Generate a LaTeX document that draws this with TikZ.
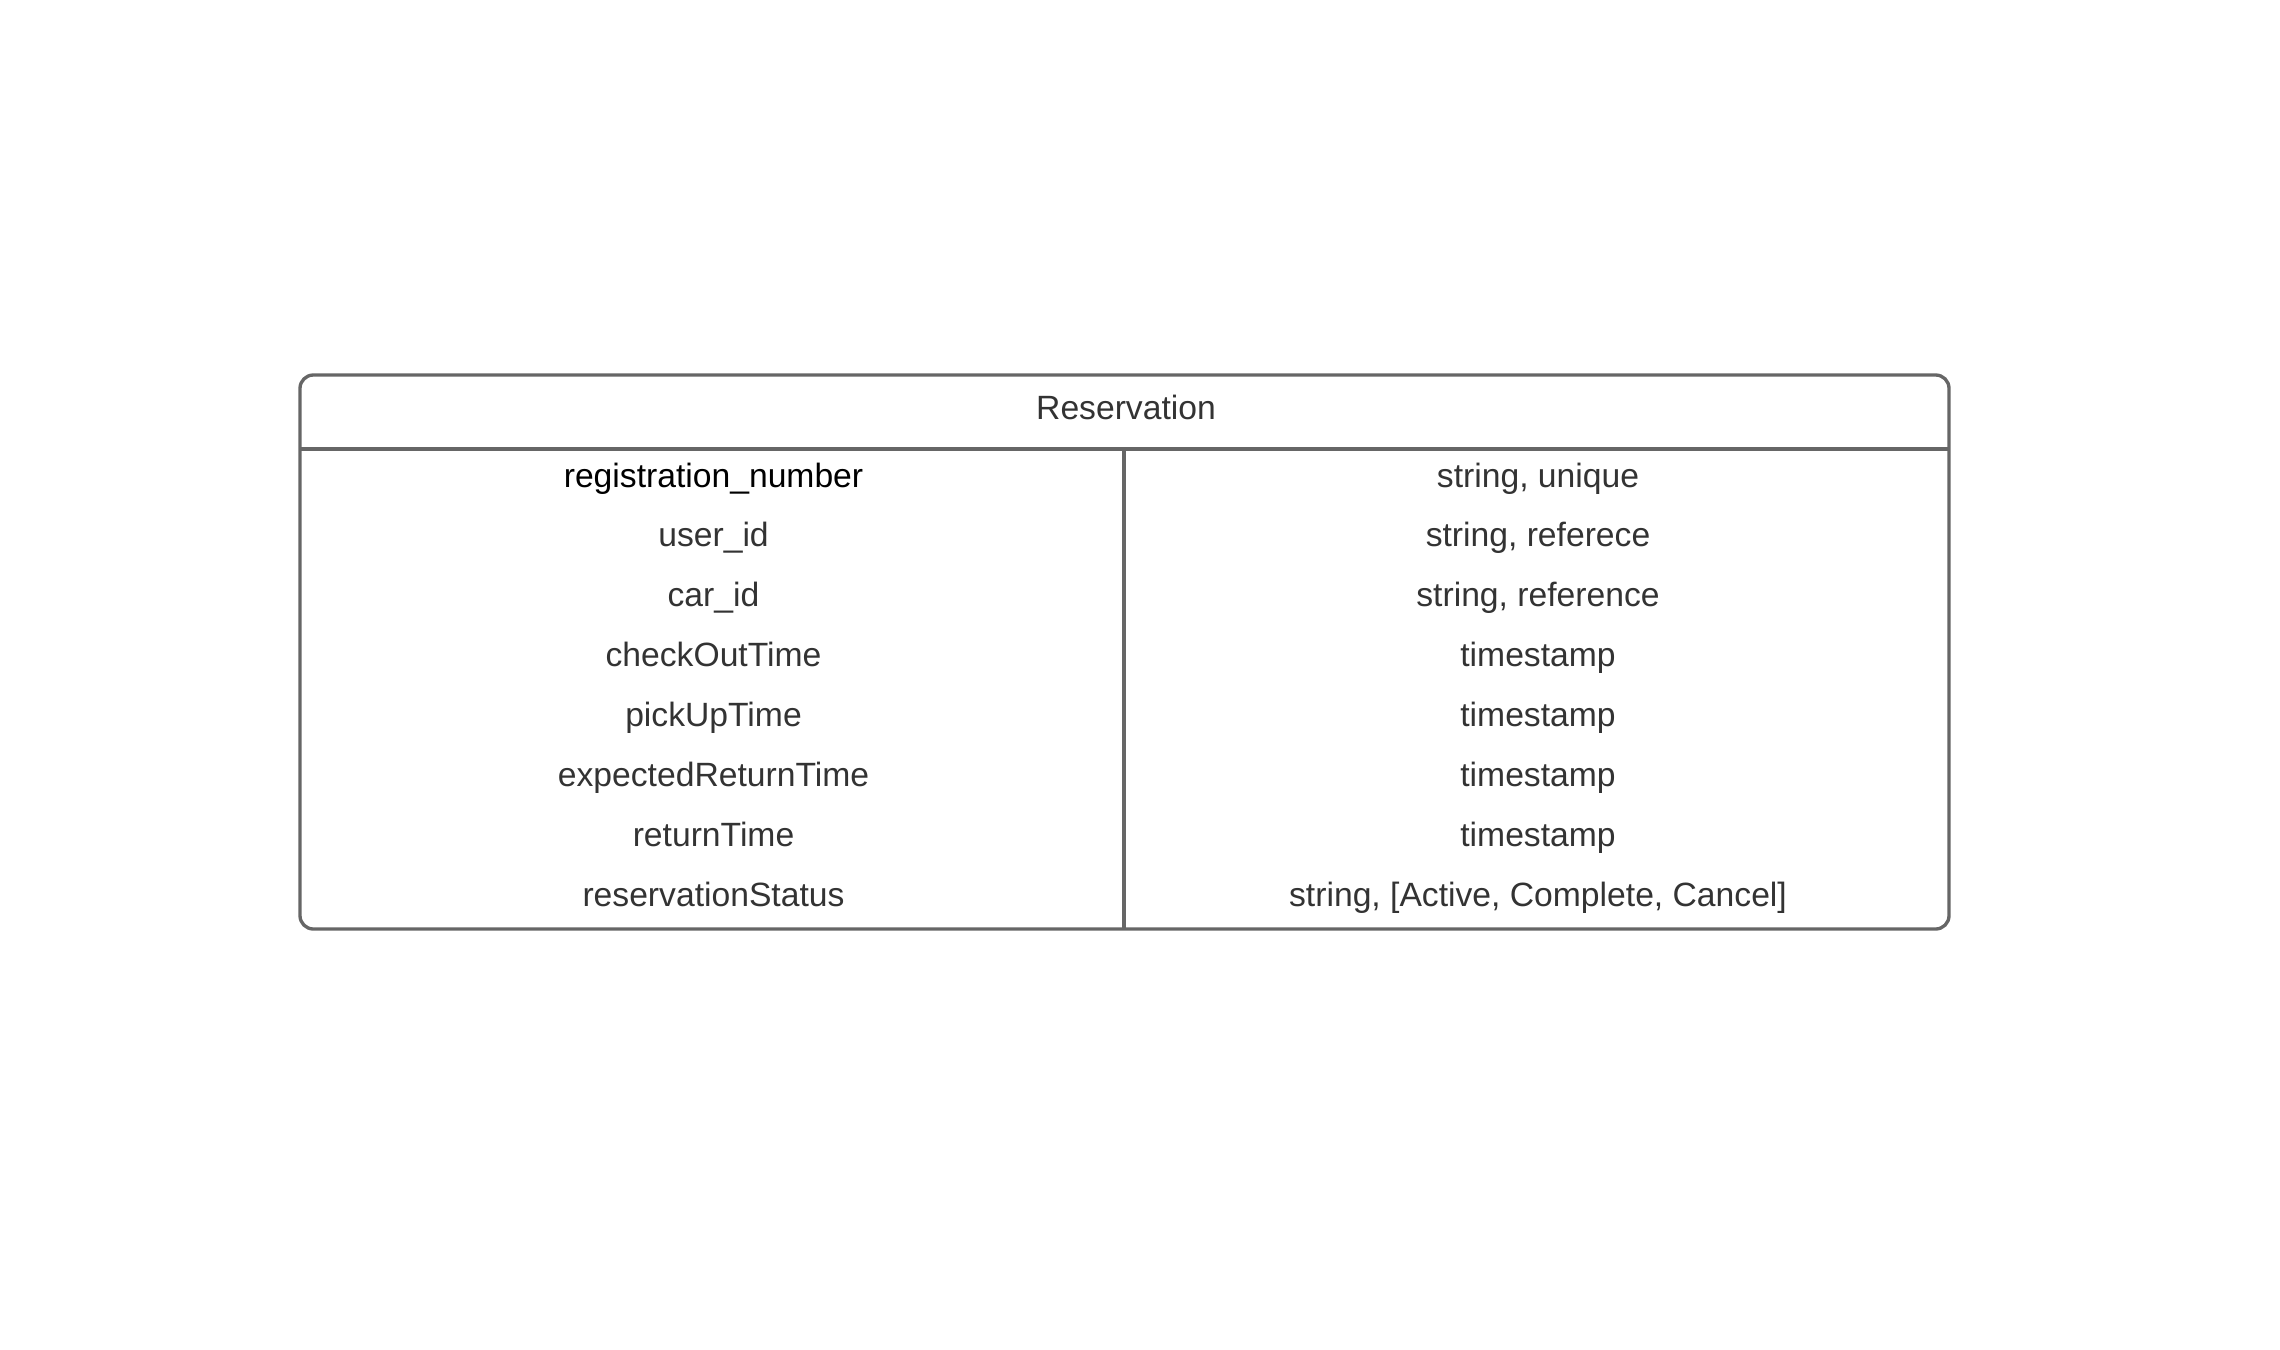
\documentclass[tikz,border=0pt]{standalone}
\usepackage{fontspec}
\setmainfont{Liberation Sans}
\usetikzlibrary{positioning}
\definecolor{framegray}{HTML}{666666}
\definecolor{textgray}{HTML}{333333}

\begin{document}
\begin{tikzpicture}[x=0.3pt,y=-0.3pt,
  tblline/.style={draw=framegray,line width=1pt},
  cell/.style={inner sep=0pt,font=\fontsize{10.1}{12}\selectfont,text=textgray,
    text height=7.23pt,text depth=0pt}]
\useasboundingbox (0,0) rectangle (2280,1350);
% frame of the table
\coordinate (nw) at (300,375);
\coordinate (se) at (1949,929);
\coordinate (hdrw) at (300,449);
\coordinate (hdre) at (1949,449);
\coordinate (divtop) at (1124,449);
\coordinate (divbot) at (1124,929);
\draw [tblline,rounded corners=4pt] (nw) rectangle (se);
\draw [tblline] (hdrw) -- (hdre);
\draw [tblline] (divtop) -- (divbot);
% header
\node [cell] (title) at (1126,407.5) {Reservation};
% rows
\foreach \name/\kind/\col [count=\i] in {
  registration\_number/{string, unique}/black,
  user\_id/{string, referece}/textgray,
  car\_id/{string, reference}/textgray,
  checkOutTime/timestamp/textgray,
  pickUpTime/timestamp/textgray,
  expectedReturnTime/timestamp/textgray,
  returnTime/timestamp/textgray,
  reservationStatus/{string, [Active, Complete, Cancel]}/textgray}
{
  \node [cell,text=\col] (field\i) at (713.5,{475+59.9*(\i-1)}) {\name};
  \node [cell] (type\i) at (1538,{475+59.9*(\i-1)}) {\kind};
}
\end{tikzpicture}
\end{document}
